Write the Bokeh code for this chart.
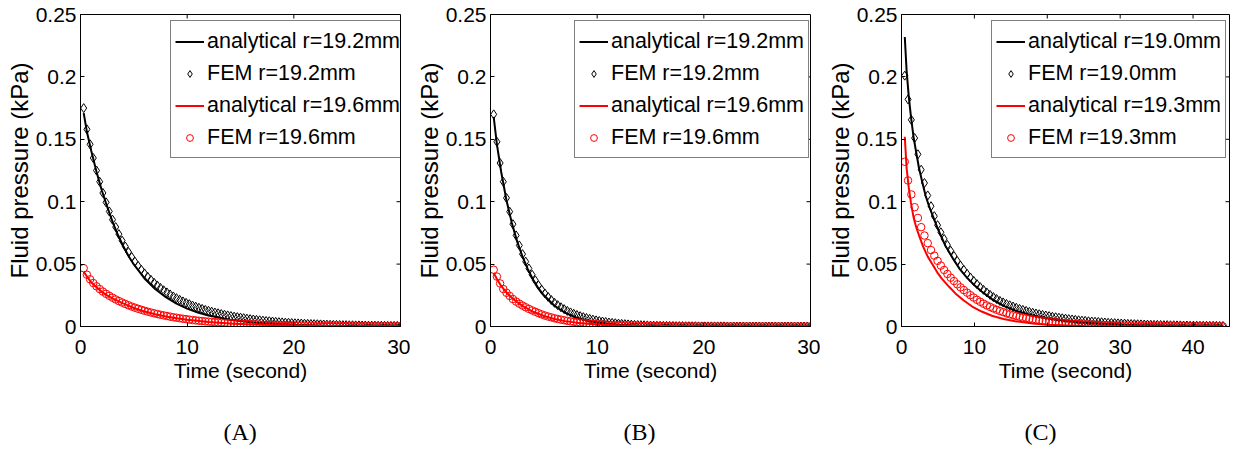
import numpy as np
from bokeh.plotting import figure
from bokeh.models import Range1d, FixedTicker, Legend, LegendItem, Title
from bokeh.layouts import row
from bokeh.embed import file_html
from bokeh.resources import INLINE

# ---------------- data ----------------
y_ticks = [0, 0.05, 0.1, 0.15, 0.2, 0.25]
y_tick_labels = ["0", "0.05", "0.1", "0.15", "0.2", "0.25"]
x_ticks_ab = [0, 10, 20, 30]
x_ticks_c = [0, 10, 20, 30, 40]

# Panel A
labels_a = ["analytical r=19.2mm", "FEM r=19.2mm", "analytical r=19.6mm", "FEM r=19.6mm"]
fem_dt_a = 0.3
ana_a_black_t = [0.3, 0.6, 1.0, 1.5, 2.0, 2.5, 3.0, 3.5, 4.0, 4.5, 5.0, 6.0, 7.0, 8.0, 9.0, 10.0,
                 11.0, 12.0, 14.0, 16.0, 18.0, 20.0, 23.0, 26.0, 30.0]
ana_a_black_v = [0.171, 0.156, 0.141, 0.124, 0.109, 0.096, 0.084, 0.0735, 0.0645, 0.0565, 0.0497,
                 0.0385, 0.0300, 0.0235, 0.0183, 0.0143, 0.0112, 0.0088, 0.0054, 0.0034, 0.0021,
                 0.0013, 0.0007, 0.0004, 0.0002]
fem_a_black = [0.175, 0.158, 0.146, 0.135, 0.125, 0.116, 0.107, 0.0995, 0.0922, 0.0856,
               0.0797, 0.0740, 0.0688, 0.0641, 0.0597, 0.0557, 0.0520, 0.0486, 0.0455, 0.0426,
               0.0399, 0.0374, 0.0351, 0.0329, 0.0309, 0.0290, 0.0273, 0.0257, 0.0241, 0.0227,
               0.0214, 0.0201, 0.0190, 0.0179, 0.0168, 0.0159, 0.0150, 0.0141, 0.0133, 0.0126,
               0.0119, 0.0112, 0.0106, 0.0100, 0.0094, 0.0089, 0.0084, 0.0079, 0.0075, 0.0071,
               0.0067, 0.0063, 0.0059, 0.0056, 0.0053, 0.0050, 0.0047, 0.0044, 0.0042, 0.0040,
               0.0037, 0.0035, 0.0033, 0.0031, 0.0030, 0.0028, 0.0026, 0.0025, 0.0024, 0.0022,
               0.0021, 0.0020, 0.0019, 0.0018, 0.0017, 0.0016, 0.0015, 0.0014, 0.0013, 0.0013,
               0.0012, 0.0011, 0.0011, 0.0010, 0.0010, 0.0009, 0.0009, 0.0008, 0.0008, 0.0007,
               0.0007, 0.0007, 0.0006, 0.0006, 0.0006, 0.0005, 0.0005, 0.0005, 0.0005, 0.0004]
ana_a_red_t = [0.3, 0.6, 1.0, 1.5, 2.0, 2.5, 3.0, 4.0, 5.0, 6.0, 7.0, 8.0, 9.0, 10.0, 12.0, 14.0,
               16.0, 18.0, 20.0, 25.0, 30.0]
ana_a_red_v = [0.044, 0.040, 0.0355, 0.0315, 0.0278, 0.0250, 0.0225, 0.0185, 0.0148, 0.0120,
               0.0098, 0.0080, 0.0066, 0.0054, 0.0037, 0.0025, 0.0017, 0.0012, 0.0008, 0.0003, 0.0001]
fem_a_red = [0.0467, 0.0415, 0.0378, 0.0348, 0.0322, 0.0300, 0.0280, 0.0262, 0.0246, 0.0231,
             0.0217, 0.0204, 0.0192, 0.0181, 0.0170, 0.0160, 0.0151, 0.0142, 0.0134, 0.0126,
             0.0119, 0.0112, 0.0106, 0.0100, 0.0094, 0.0089, 0.0084, 0.0079, 0.0074, 0.0070,
             0.0066, 0.0062, 0.0059, 0.0055, 0.0052, 0.0049, 0.0046, 0.0044, 0.0041, 0.0039,
             0.0037, 0.0035, 0.0033, 0.0031, 0.0029, 0.0027, 0.0026, 0.0024, 0.0023, 0.0022,
             0.0020, 0.0019, 0.0018, 0.0017, 0.0016, 0.0015, 0.0014, 0.0013, 0.0012, 0.0012,
             0.0011, 0.0010, 0.0010, 0.0009, 0.0009, 0.0008, 0.0008, 0.0007, 0.0007, 0.0006,
             0.0006, 0.0006, 0.0005, 0.0005, 0.0005, 0.0004, 0.0004, 0.0004, 0.0004, 0.0003,
             0.0003, 0.0003, 0.0003, 0.0003, 0.0002, 0.0002, 0.0002, 0.0002, 0.0002, 0.0002,
             0.0002, 0.0001, 0.0001, 0.0001, 0.0001, 0.0001, 0.0001, 0.0001, 0.0001, 0.0001]

# Panel B
labels_b = ["analytical r=19.2mm", "FEM r=19.2mm", "analytical r=19.6mm", "FEM r=19.6mm"]
fem_dt_b = 0.3
ana_b_black_t = [0.3, 0.6, 1.0, 1.5, 2.0, 2.5, 3.0, 3.5, 4.0, 4.5, 5.0, 6.0, 7.0, 8.0, 9.0, 10.0,
                 12.0, 14.0, 16.0, 20.0, 25.0, 30.0]
ana_b_black_v = [0.168, 0.146, 0.124, 0.101, 0.083, 0.068, 0.056, 0.046, 0.0375, 0.0305, 0.0250,
                 0.0166, 0.0110, 0.0073, 0.0049, 0.0033, 0.0015, 0.0007, 0.0003, 0.0001, 0.0, 0.0]
fem_b_black = [0.170, 0.148, 0.131, 0.116, 0.103, 0.092, 0.082, 0.073, 0.065, 0.058,
               0.052, 0.0465, 0.0415, 0.0370, 0.0330, 0.0295, 0.0265, 0.0237, 0.0212, 0.0190,
               0.0171, 0.0154, 0.0139, 0.0125, 0.0113, 0.0102, 0.0092, 0.0083, 0.0075, 0.0068,
               0.0061, 0.0055, 0.0049, 0.0044, 0.0040, 0.0036, 0.0032, 0.0029, 0.0026, 0.0023,
               0.0021, 0.0019, 0.0017, 0.0015, 0.0013, 0.0012, 0.0011, 0.0010, 0.0009, 0.0008,
               0.0007, 0.0006, 0.0006, 0.0005, 0.0005, 0.0004, 0.0004, 0.0003, 0.0003, 0.0003,
               0.0002, 0.0002, 0.0002, 0.0002, 0.0001, 0.0001, 0.0001, 0.0001, 0.0001, 0.0001,
               0.0001, 0.0001, 0.0001, 0.0, 0.0, 0.0, 0.0, 0.0, 0.0, 0.0,
               0.0, 0.0, 0.0, 0.0, 0.0, 0.0, 0.0, 0.0, 0.0, 0.0,
               0.0, 0.0, 0.0, 0.0, 0.0, 0.0, 0.0, 0.0, 0.0, 0.0]
ana_b_red_t = [0.3, 0.6, 1.0, 1.5, 2.0, 2.5, 3.0, 4.0, 5.0, 6.0, 7.0, 8.0, 10.0, 12.0, 15.0, 20.0, 30.0]
ana_b_red_v = [0.043, 0.038, 0.0325, 0.0272, 0.0230, 0.0195, 0.0165, 0.0118, 0.0084, 0.0060,
               0.0043, 0.0031, 0.0016, 0.0008, 0.0003, 0.0001, 0.0]
fem_b_red = [0.0455, 0.0400, 0.0345, 0.0300, 0.0270, 0.0245, 0.0220, 0.0200, 0.0183, 0.0168,
             0.0154, 0.0141, 0.0129, 0.0118, 0.0107, 0.0097, 0.0088, 0.0080, 0.0073, 0.0066,
             0.0060, 0.0055, 0.0050, 0.0045, 0.0041, 0.0037, 0.0034, 0.0031, 0.0028, 0.0025,
             0.0023, 0.0021, 0.0019, 0.0017, 0.0016, 0.0014, 0.0013, 0.0012, 0.0011, 0.0010,
             0.0009, 0.0008, 0.0007, 0.0007, 0.0006, 0.0005, 0.0005, 0.0004, 0.0004, 0.0003,
             0.0003, 0.0003, 0.0002, 0.0002, 0.0002, 0.0002, 0.0001, 0.0001, 0.0001, 0.0001,
             0.0001, 0.0001, 0.0001, 0.0001, 0.0, 0.0, 0.0, 0.0, 0.0, 0.0,
             0.0, 0.0, 0.0, 0.0, 0.0, 0.0, 0.0, 0.0, 0.0, 0.0,
             0.0, 0.0, 0.0, 0.0, 0.0, 0.0, 0.0, 0.0, 0.0, 0.0,
             0.0, 0.0, 0.0, 0.0, 0.0, 0.0, 0.0, 0.0, 0.0, 0.0]

# Panel C
labels_c = ["analytical r=19.0mm", "FEM r=19.0mm", "analytical r=19.3mm", "FEM r=19.3mm"]
fem_dt_c = 0.45
ana_c_black_t = [0.45, 0.7, 1.0, 1.3, 1.65, 2.0, 2.4, 2.8, 3.3, 3.8, 4.2, 5.0, 6.0, 7.0, 8.0, 9.0,
                 10.0, 11.0, 12.5, 14.0, 16.0, 18.0, 20.0, 22.5, 25.0, 28.0, 32.0, 36.0, 40.0, 44.0]
ana_c_black_v = [0.232, 0.205, 0.184, 0.168, 0.152, 0.140, 0.127, 0.117, 0.105, 0.096, 0.090,
                 0.078, 0.065, 0.055, 0.046, 0.039, 0.033, 0.028, 0.0215, 0.0165, 0.0120, 0.0088,
                 0.0066, 0.0047, 0.0033, 0.0022, 0.0013, 0.0008, 0.0005, 0.0003]
fem_c_black = [0.201, 0.182, 0.1656, 0.151, 0.138, 0.1256, 0.115, 0.105, 0.0964, 0.0884,
               0.0812, 0.0755, 0.0702, 0.0653, 0.0607, 0.0565, 0.0525, 0.0488, 0.0454, 0.0422,
               0.0393, 0.0365, 0.0340, 0.0316, 0.0294, 0.0273, 0.0254, 0.0236, 0.0220, 0.0205,
               0.0193, 0.0181, 0.0170, 0.0160, 0.0150, 0.0141, 0.0133, 0.0125, 0.0117, 0.0110,
               0.0104, 0.0098, 0.0093, 0.0088, 0.0083, 0.0078, 0.0074, 0.0070, 0.0066, 0.0063,
               0.0059, 0.0056, 0.0053, 0.0050, 0.0047, 0.0045, 0.0042, 0.0040, 0.0038, 0.0036,
               0.0034, 0.0032, 0.0030, 0.0028, 0.0027, 0.0025, 0.0024, 0.0023, 0.0021, 0.0020,
               0.0019, 0.0018, 0.0017, 0.0016, 0.0015, 0.0014, 0.0013, 0.0013, 0.0012, 0.0011,
               0.0011, 0.0010, 0.0010, 0.0009, 0.0009, 0.0008, 0.0008, 0.0007, 0.0007, 0.0007,
               0.0006, 0.0006, 0.0006, 0.0005, 0.0005, 0.0005, 0.0004, 0.0004]
ana_c_red_t = [0.45, 0.7, 1.0, 1.3, 1.65, 2.0, 2.4, 3.0, 3.6, 4.2, 5.0, 5.5, 6.5, 7.4, 8.5, 9.7,
               11.0, 12.4, 14.0, 15.6, 18.0, 20.0, 25.0, 30.0, 35.0, 44.0]
ana_c_red_v = [0.152, 0.127, 0.111, 0.099, 0.0876, 0.080, 0.073, 0.0636, 0.056, 0.0502, 0.0425,
               0.0385, 0.0320, 0.0265, 0.0210, 0.0160, 0.0120, 0.0086, 0.0060, 0.0042, 0.0024,
               0.0015, 0.0005, 0.0002, 0.0001, 0.0]
fem_c_red = [0.132, 0.117, 0.1058, 0.0956, 0.0870, 0.0796, 0.0729, 0.0668, 0.0612, 0.0568,
             0.0526, 0.0488, 0.0453, 0.0421, 0.0391, 0.0364, 0.0338, 0.0314, 0.0292, 0.0271,
             0.0251, 0.0232, 0.0214, 0.0198, 0.0183, 0.0169, 0.0157, 0.0145, 0.0134, 0.0124,
             0.0115, 0.0106, 0.0098, 0.0091, 0.0084, 0.0078, 0.0072, 0.0067, 0.0062, 0.0057,
             0.0053, 0.0049, 0.0045, 0.0042, 0.0039, 0.0036, 0.0033, 0.0031, 0.0029, 0.0027,
             0.0025, 0.0023, 0.0021, 0.0020, 0.0018, 0.0017, 0.0016, 0.0015, 0.0014, 0.0013,
             0.0012, 0.0011, 0.0010, 0.0009, 0.0009, 0.0008, 0.0008, 0.0007, 0.0007, 0.0006,
             0.0006, 0.0005, 0.0005, 0.0005, 0.0004, 0.0004, 0.0004, 0.0003, 0.0003, 0.0003,
             0.0003, 0.0002, 0.0002, 0.0002, 0.0002, 0.0002, 0.0002, 0.0001, 0.0001, 0.0001,
             0.0001, 0.0001, 0.0001, 0.0001, 0.0001, 0.0001, 0.0001, 0.0001]

captions = ["(A)", "(B)", "(C)"]

SANS = "Liberation Sans"
SERIF = "Liberation Serif"
FRAME_H = 312
TOP = 14
TOTAL_H = 447
TICK_LEN = 4


def fem_times(vals, dt):
    return (np.arange(len(vals)) + 1) * dt


def style_axis(ax, ticks):
    ax.ticker = FixedTicker(ticks=ticks)
    ax.major_tick_in = TICK_LEN
    ax.major_tick_out = 0
    ax.minor_tick_line_color = None
    ax.axis_line_color = "black"
    ax.major_tick_line_color = "black"
    ax.major_label_text_font = SANS
    ax.major_label_text_font_size = "21px"
    ax.major_label_text_color = "black"
    ax.axis_label_text_font = SANS
    ax.axis_label_text_font_style = "normal"
    ax.axis_label_text_color = "black"


def make_panel(frame_w, left, right, xmax, xticks, labels, series, leg_x, cap_left, caption):
    p = figure(frame_width=frame_w, frame_height=FRAME_H,
               x_range=Range1d(0, xmax), y_range=Range1d(0, 0.25),
               output_backend="svg", toolbar_location=None,
               min_border_left=left, min_border_right=right,
               min_border_top=TOP, min_border_bottom=TOTAL_H - TOP - FRAME_H)
    p.background_fill_color = "white"
    p.border_fill_color = "white"
    p.outline_line_color = "black"
    p.outline_line_width = 1
    p.xgrid.visible = False
    p.ygrid.visible = False

    xa = p.xaxis[0]
    ya = p.yaxis[0]
    style_axis(xa, xticks)
    style_axis(ya, y_ticks)
    ya.major_label_overrides = {t: s for t, s in zip(y_ticks, y_tick_labels)}
    ya.major_label_standoff = 4
    xa.major_label_standoff = 13
    xa.axis_label = "Time (second)"
    xa.axis_label_text_font_size = "21px"
    xa.axis_label_standoff = 2
    ya.axis_label = "Fluid pressure (kPa)"
    ya.axis_label_text_font_size = "24px"
    ya.axis_label_standoff = 0

    # inward ticks on the top and right edges of the box
    ty = TICK_LEN * 0.25 / FRAME_H
    tx = TICK_LEN * xmax / frame_w
    xt_in = [t for t in xticks if 0 < t < xmax]
    yt_in = [t for t in y_ticks if 0 < t < 0.25]
    p.segment(x0=xt_in, y0=[0.25] * len(xt_in), x1=xt_in, y1=[0.25 - ty] * len(xt_in),
              line_color="black", line_width=1)
    p.segment(x0=[xmax] * len(yt_in), y0=yt_in, x1=[xmax - tx] * len(yt_in), y1=yt_in,
              line_color="black", line_width=1)

    (abt, abv), (fbv, dt), (art, arv), (frv, _) = series
    r1 = p.line(abt, abv, line_color="black", line_width=2)
    r2 = p.scatter(fem_times(fbv, dt), fbv, marker="diamond", size=9, line_color="black",
                   fill_color=None, line_width=1)
    r3 = p.line(art, arv, line_color="red", line_width=2)
    r4 = p.scatter(fem_times(frv, dt), frv, marker="circle", size=7.5, line_color="red",
                   fill_color=None, line_width=1)

    legend = Legend(items=[LegendItem(label=labels[0], renderers=[r1]),
                           LegendItem(label=labels[1], renderers=[r2]),
                           LegendItem(label=labels[2], renderers=[r3]),
                           LegendItem(label=labels[3], renderers=[r4])],
                    location=(leg_x, 168))
    legend.label_text_font = SANS
    legend.label_text_font_size = "21.5px"
    legend.label_text_color = "black"
    legend.glyph_width = 29
    legend.glyph_height = 17
    legend.label_height = 32
    legend.label_standoff = 3
    legend.padding = 4
    legend.spacing = 0
    legend.margin = 0
    legend.border_line_color = "black"
    legend.border_line_width = 1
    legend.background_fill_color = "white"
    legend.background_fill_alpha = 1
    p.add_layout(legend)

    # caption: an empty first line pushes the caption lower without extra padding below
    cap = Title(text="\n" + caption, align="left", text_font=SERIF, text_font_size="24px",
                text_font_style="normal", text_color="black", standoff=4, offset=cap_left,
                text_line_height=1.2)
    p.add_layout(cap, "below")
    return p


pA = make_panel(320, 80, 10, 30, x_ticks_ab, labels_a,
                [(ana_a_black_t, ana_a_black_v), (fem_a_black, fem_dt_a),
                 (ana_a_red_t, ana_a_red_v), (fem_a_red, fem_dt_a)],
                90, 143, captions[0])
pB = make_panel(320, 80, 10, 30, x_ticks_ab, labels_b,
                [(ana_b_black_t, ana_b_black_v), (fem_b_black, fem_dt_b),
                 (ana_b_red_t, ana_b_red_v), (fem_b_red, fem_dt_b)],
                84, 133, captions[1])
pC = make_panel(328, 81, 3, 45, x_ticks_c, labels_c,
                [(ana_c_black_t, ana_c_black_v), (fem_c_black, fem_dt_c),
                 (ana_c_red_t, ana_c_red_v), (fem_c_red, fem_dt_c)],
                90, 123, captions[2])

layout = row(pA, pB, pC)
open("out.html", "w").write(file_html(layout, INLINE))
